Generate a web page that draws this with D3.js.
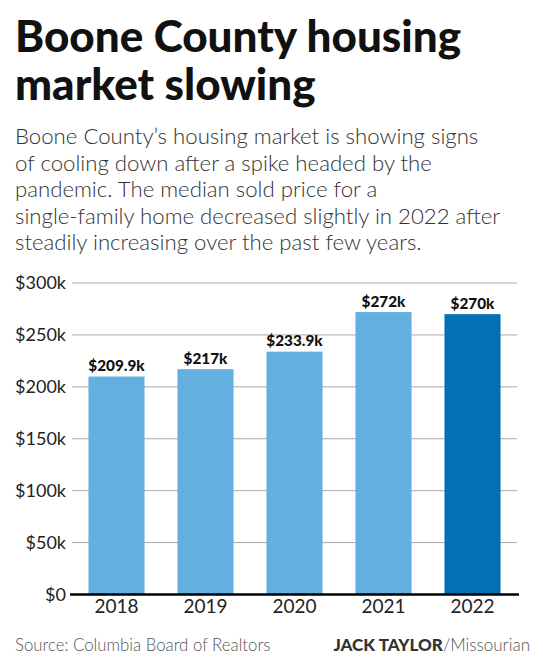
<!DOCTYPE html>
<html>
<head>
<meta charset="utf-8">
<script src="https://cdn.jsdelivr.net/npm/d3@7"></script>
<style>
  body { margin: 0; background: #fff; }
  svg { display: block; font-family: Lato, "Open Sans", sans-serif; }
</style>
</head>
<body>
<div id="chart"></div>
<script>
// chart data
var years = ["2018", "2019", "2020", "2021", "2022"];
var prices = [209.9, 217, 233.9, 272, 270];   // median sold price, $ thousands
var priceLabels = ["$209.9k", "$217k", "$233.9k", "$272k", "$270k"];
var yTicks = [0, 50, 100, 150, 200, 250, 300];
var yTickLabels = ["$0", "$50k", "$100k", "$150k", "$200k", "$250k", "$300k"];

var titleLines = ["Boone County housing", "market slowing"];
var introLines = [
  "Boone County\u2019s housing market is showing signs",
  "of cooling down after a spike headed by the",
  "pandemic. The median sold price for a",
  "single-family home decreased slightly in 2022 after",
  "steadily increasing over the past few years."
];

var W = 543, H = 664;
var margin = {top: 283, left: 72, right: 26, bottom: 70};

var svg = d3.select("#chart")
  .append("svg")
    .attr("width", W)
    .attr("height", H);

// title
svg.append("g").selectAll("text")
  .data(titleLines)
  .enter().append("text")
    .attr("x", 15)
    .attr("y", function(d, i) { return 52 + i * 48; })
    .attr("font-size", 44)
    .attr("font-weight", 900)
    .attr("fill", "#111")
    .text(function(d) { return d; });

// intro text
svg.append("g").selectAll("text")
  .data(introLines)
  .enter().append("text")
    .attr("x", 15)
    .attr("y", function(d, i) { return 144 + i * 26.6; })
    .attr("font-size", 22.2)
    .attr("font-weight", 300)
    .attr("fill", "#333")
    .text(function(d) { return d; });

// scales
var x = d3.scaleBand()
  .domain(years)
  .range([margin.left, W - margin.right])
  .paddingInner(0.37)
  .paddingOuter(0.185);

var y = d3.scaleLinear()
  .domain([0, 300])
  .range([594.5, margin.top]);

// gridlines
svg.append("g")
  .selectAll("line")
  .data(yTicks.slice(1))
  .enter().append("line")
    .attr("x1", margin.left)
    .attr("x2", W - margin.right)
    .attr("y1", function(d) { return y(d); })
    .attr("y2", function(d) { return y(d); })
    .attr("stroke", "#aaa")
    .attr("stroke-width", 1);

// y axis labels
var yAxis = svg.append("g")
  .attr("transform", "translate(" + margin.left + ",0)")
  .call(d3.axisLeft(y).tickValues(yTicks)
    .tickFormat(function(d, i) { return yTickLabels[i]; })
    .tickSize(0).tickPadding(6));
yAxis.select(".domain").remove();
yAxis.selectAll("text")
  .attr("font-family", "Lato, sans-serif")
  .attr("font-size", 18)
  .attr("fill", "#222");

// bars
svg.append("g")
  .selectAll("rect")
  .data(prices)
  .enter().append("rect")
    .attr("x", function(d, i) { return x(years[i]); })
    .attr("y", function(d) { return y(d); })
    .attr("width", x.bandwidth())
    .attr("height", function(d) { return y(0) - y(d); })
    .attr("fill", function(d, i) { return i == years.length - 1 ? "#0270b4" : "#62afe0"; });

// value labels
svg.append("g")
  .selectAll("text")
  .data(prices)
  .enter().append("text")
    .attr("x", function(d, i) { return x(years[i]) + x.bandwidth() / 2; })
    .attr("y", function(d) { return y(d) - 5.5; })
    .attr("text-anchor", "middle")
    .attr("font-size", 15.3)
    .attr("font-weight", 900)
    .attr("fill", "#111")
    .text(function(d, i) { return priceLabels[i]; });

// x axis
var xAxis = svg.append("g")
  .attr("transform", "translate(0," + y(0) + ")")
  .call(d3.axisBottom(x).tickSize(0).tickPadding(5));
xAxis.select(".domain")
  .attr("stroke", "#000")
  .attr("stroke-width", 2.5)
  .attr("d", "M" + (margin.left - 2) + ",0H" + (W - margin.right + 2));
xAxis.selectAll("text")
  .attr("font-family", "Lato, sans-serif")
  .attr("font-size", 19)
  .attr("fill", "#222");

// footer
svg.append("text")
  .attr("x", 15)
  .attr("y", 651)
  .attr("font-size", 16.8)
  .attr("font-weight", 300)
  .attr("fill", "#555")
  .text("Source: Columbia Board of Realtors");

var credit = svg.append("text")
  .attr("x", 530)
  .attr("y", 651)
  .attr("text-anchor", "end")
  .attr("font-size", 17);
credit.append("tspan").attr("font-weight", 900).attr("fill", "#333").text("JACK TAYLOR");
credit.append("tspan").attr("font-weight", 300).attr("fill", "#555").text("/Missourian");
</script>
</body>
</html>
